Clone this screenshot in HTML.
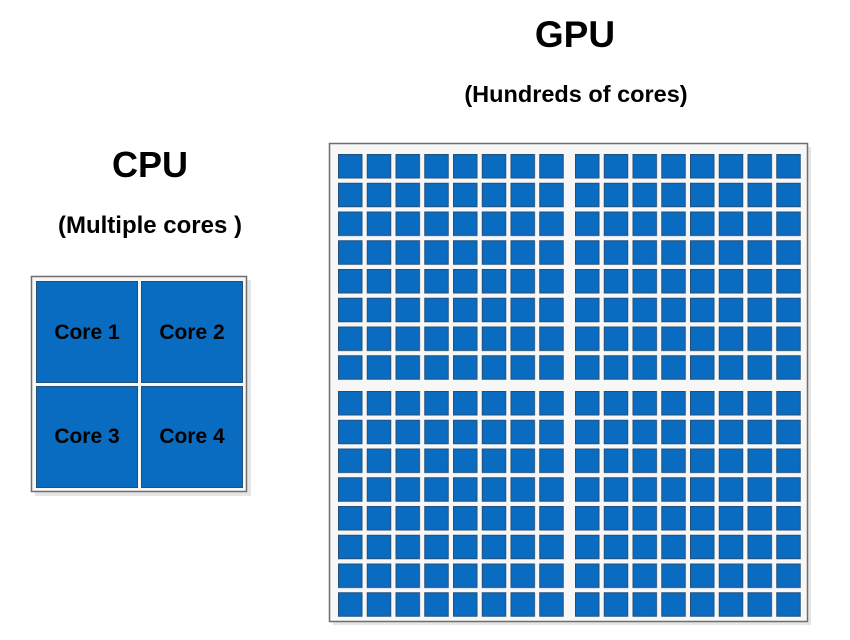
<!DOCTYPE html>
<html><head><meta charset="utf-8"><style>
html,body{margin:0;padding:0;background:#fff;width:850px;height:640px;overflow:hidden}
</style></head><body>
<svg width="850" height="640" viewBox="0 0 850 640" xmlns="http://www.w3.org/2000/svg" font-family="Liberation Sans, sans-serif" font-weight="bold">
<defs>
<pattern id="p" x="0" y="0" width="28.75" height="28.75" patternUnits="userSpaceOnUse">
<rect x="0.5" y="0.5" width="23.5" height="23.5" fill="#0a6cc0" stroke="#23507a" stroke-width="1"/>
</pattern>
</defs>
<text x="575" y="47" font-size="37" text-anchor="middle" fill="#000">GPU</text>
<text x="576" y="102" font-size="23.5" text-anchor="middle" fill="#000">(Hundreds of cores)</text>
<text x="150" y="177" font-size="36" text-anchor="middle" fill="#000">CPU</text>
<text x="150" y="233" font-size="24" text-anchor="middle" fill="#000">(Multiple cores )</text>
<!-- GPU box -->
<rect x="333" y="147" width="478" height="478" fill="#e6e6e6"/>
<rect x="329.5" y="143.5" width="478" height="478" fill="#f7f7f7" stroke="#6e6e6e" stroke-width="1.5"/>
<g transform="translate(338,154)"><rect x="0" y="0" width="226" height="226" fill="url(#p)"/></g>
<g transform="translate(575,154)"><rect x="0" y="0" width="226" height="226" fill="url(#p)"/></g>
<g transform="translate(338,391)"><rect x="0" y="0" width="226" height="226" fill="url(#p)"/></g>
<g transform="translate(575,391)"><rect x="0" y="0" width="226" height="226" fill="url(#p)"/></g>
<!-- CPU box -->
<rect x="35" y="280" width="216" height="216" fill="#e6e6e6"/>
<rect x="31.5" y="276.5" width="215" height="215" fill="#f7f7f7" stroke="#6e6e6e" stroke-width="1.5"/>
<g fill="#0a6cc0" stroke="#23507a" stroke-width="1">
<rect x="36.5" y="281.5" width="101" height="101"/>
<rect x="141.5" y="281.5" width="101" height="101"/>
<rect x="36.5" y="386.5" width="101" height="101"/>
<rect x="141.5" y="386.5" width="101" height="101"/>
</g>
<g font-size="21" text-anchor="middle" fill="#000">
<text x="87" y="339">Core 1</text>
<text x="192" y="339">Core 2</text>
<text x="87" y="443">Core 3</text>
<text x="192" y="443">Core 4</text>
</g>
</svg>
</body></html>
